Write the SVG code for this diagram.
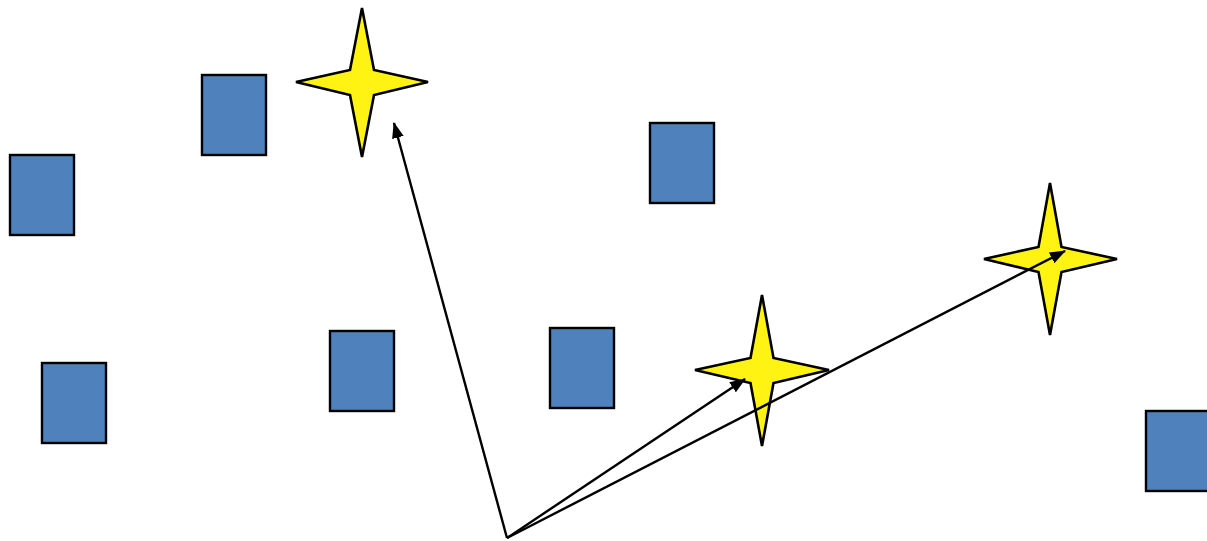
<svg xmlns="http://www.w3.org/2000/svg" width="1207" height="541" viewBox="0 0 1207 541">
<style>
.box{fill:#4F81BD;stroke:#000;stroke-width:2.4}
.star{fill:#FFF314;stroke:#000;stroke-width:2.6;stroke-linejoin:miter}
.conn{stroke:#000;stroke-width:2.4;fill:none}
</style>
<defs>
<marker id="ah" markerWidth="16" markerHeight="12" refX="15" refY="6" orient="auto" markerUnits="userSpaceOnUse">
<path d="M0,0 L16,6 L0,12 Z" fill="#000"/>
</marker>
</defs>
<rect width="1207" height="541" fill="#fff"/>
<g id="box1"><rect class="box" x="202" y="75" width="64" height="80"/></g>
<g id="box2"><rect class="box" x="10" y="155" width="64" height="80"/></g>
<g id="box3"><rect class="box" x="650" y="123" width="64" height="80"/></g>
<g id="box4"><rect class="box" x="42" y="363" width="64" height="80"/></g>
<g id="box5"><rect class="box" x="330" y="331" width="64" height="80"/></g>
<g id="box6"><rect class="box" x="550" y="328" width="64" height="80"/></g>
<g id="box7"><rect class="box" x="1146" y="411" width="64" height="80"/></g>
<g id="star1"><path class="star" d="M362,8 L374,70 L428,82 L374,95 L362,157 L350,95 L296,82 L350,70 Z"/></g>
<g id="star2"><path class="star" d="M762,295 L773.5,358 L829,370 L773.5,383 L762,446 L750.5,383 L695,370 L750.5,358 Z"/></g>
<g id="star3"><path class="star" d="M1050,183 L1061.5,247 L1117,259 L1061.5,272 L1050,335 L1038.5,272 L984,259 L1038.5,247 Z"/></g>
<g id="connectors">
<line class="conn" x1="507" y1="538" x2="394" y2="123" marker-end="url(#ah)"/>
<line class="conn" x1="507" y1="538" x2="745" y2="379" marker-end="url(#ah)"/>
<line class="conn" x1="507" y1="538" x2="1065" y2="251" marker-end="url(#ah)"/>
</g>
</svg>
